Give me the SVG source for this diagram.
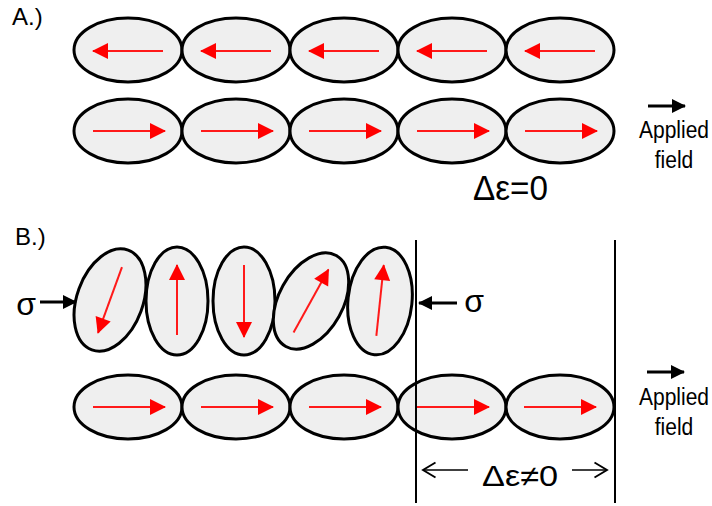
<svg xmlns="http://www.w3.org/2000/svg" width="712" height="506" viewBox="0 0 712 506">
<style>
.el{fill:#efefef;stroke:#000;stroke-width:3}
.ra{stroke:#ff1a1a;stroke-width:2;fill:none;marker-end:url(#rh)}
.ba{stroke:#000;stroke-width:3;fill:none;marker-end:url(#bh)}
.ta{stroke:#000;stroke-width:1.5;fill:none;marker-end:url(#oh)}
.vl{stroke:#000;stroke-width:2}
.lb{font-family:"Liberation Sans",Arial,sans-serif;fill:#000}
</style>
<defs>
<marker id="rh" markerUnits="userSpaceOnUse" markerWidth="20" markerHeight="20" viewBox="0 -10 16 20" refX="15" refY="0" orient="auto"><path d="M0,-8 L16,0 L0,8 Z" fill="#ff0000"/></marker>
<marker id="bh" markerUnits="userSpaceOnUse" markerWidth="20" markerHeight="20" viewBox="0 -10 14 20" refX="13" refY="0" orient="auto"><path d="M0,-7 L14,0 L0,7 Z" fill="#000"/></marker>
<marker id="oh" markerUnits="userSpaceOnUse" markerWidth="20" markerHeight="20" viewBox="-12 -8 14 16" refX="0" refY="0" orient="auto"><path d="M-10,-6 L0,0 L-10,6" fill="none" stroke="#000" stroke-width="1.5"/></marker>
</defs>

<text class="lb" x="12" y="25" font-size="24">A.)</text>
<text class="lb" x="15" y="245" font-size="24">B.)</text>

<g id="a-row1">
<g id="a1-1"><ellipse class="el" cx="128" cy="50" rx="54" ry="32"/><line class="ra" x1="163" y1="51" x2="93" y2="51"/></g>
<g id="a1-2"><ellipse class="el" cx="236" cy="50" rx="54" ry="32"/><line class="ra" x1="271" y1="51" x2="201" y2="51"/></g>
<g id="a1-3"><ellipse class="el" cx="344" cy="50" rx="54" ry="32"/><line class="ra" x1="379" y1="51" x2="309" y2="51"/></g>
<g id="a1-4"><ellipse class="el" cx="452" cy="50" rx="54" ry="32"/><line class="ra" x1="487" y1="51" x2="417" y2="51"/></g>
<g id="a1-5"><ellipse class="el" cx="560" cy="50" rx="54" ry="32"/><line class="ra" x1="595" y1="51" x2="525" y2="51"/></g>
</g>
<g id="a-row2">
<g id="a2-1"><ellipse class="el" cx="128" cy="131" rx="54" ry="32"/><line class="ra" x1="93" y1="131" x2="165" y2="131"/></g>
<g id="a2-2"><ellipse class="el" cx="236" cy="131" rx="54" ry="32"/><line class="ra" x1="201" y1="131" x2="273" y2="131"/></g>
<g id="a2-3"><ellipse class="el" cx="344" cy="131" rx="54" ry="32"/><line class="ra" x1="309" y1="131" x2="381" y2="131"/></g>
<g id="a2-4"><ellipse class="el" cx="452" cy="131" rx="54" ry="32"/><line class="ra" x1="417" y1="131" x2="489" y2="131"/></g>
<g id="a2-5"><ellipse class="el" cx="560" cy="131" rx="54" ry="32"/><line class="ra" x1="525" y1="131" x2="597" y2="131"/></g>
</g>
<g id="a-field">
<line class="ba" x1="648" y1="106" x2="685" y2="106"/>
<text class="lb" transform="translate(674,138) scale(1,1.14)" font-size="21" text-anchor="middle">Applied</text>
<text class="lb" transform="translate(674,168) scale(1,1.14)" font-size="21" text-anchor="middle">field</text>
</g>
<text class="lb" x="473" y="200" font-size="35" textLength="75" lengthAdjust="spacingAndGlyphs">Δε=0</text>

<g id="b-row1">
<g id="b1-1" transform="translate(110,300) rotate(20)"><ellipse class="el" cx="0" cy="0" rx="33" ry="53"/><line class="ra" x1="0" y1="-35" x2="0" y2="35"/></g>
<g id="b1-2" transform="translate(177,301)"><ellipse class="el" cx="0" cy="0" rx="31" ry="54"/><line class="ra" x1="0" y1="34" x2="0" y2="-36"/></g>
<g id="b1-3" transform="translate(244,301)"><ellipse class="el" cx="0" cy="0" rx="31" ry="54"/><line class="ra" x1="0" y1="-36" x2="0" y2="36"/></g>
<g id="b1-4" transform="translate(311,301) rotate(29)"><ellipse class="el" cx="0" cy="0" rx="32" ry="52"/><line class="ra" x1="0" y1="36" x2="0" y2="-36"/></g>
<g id="b1-5" transform="translate(380,301) rotate(6)"><ellipse class="el" cx="0" cy="0" rx="32" ry="54"/><line class="ra" x1="0" y1="35" x2="0" y2="-36"/></g>
</g>
<g id="b-row2">
<g id="b2-1"><ellipse class="el" cx="128" cy="407" rx="54" ry="32"/><line class="ra" x1="93" y1="407" x2="165" y2="407"/></g>
<g id="b2-2"><ellipse class="el" cx="236" cy="407" rx="54" ry="32"/><line class="ra" x1="201" y1="407" x2="273" y2="407"/></g>
<g id="b2-3"><ellipse class="el" cx="344" cy="407" rx="54" ry="32"/><line class="ra" x1="309" y1="407" x2="381" y2="407"/></g>
<g id="b2-4"><ellipse class="el" cx="452" cy="407" rx="54" ry="32"/><line class="ra" x1="417" y1="407" x2="489" y2="407"/></g>
<g id="b2-5"><ellipse class="el" cx="560" cy="407" rx="54" ry="32"/><line class="ra" x1="524" y1="407" x2="596" y2="407"/></g>
</g>

<g id="connectors">
<line class="vl" x1="416" y1="240" x2="416" y2="503"/>
<line class="vl" x1="615" y1="240" x2="615" y2="503"/>
<line class="ba" x1="40" y1="302" x2="76" y2="302"/>
<line class="ba" x1="457" y1="303" x2="419" y2="303"/>
<line class="ta" x1="468" y1="470" x2="423" y2="470"/>
<line class="ta" x1="572" y1="470" x2="607" y2="470"/>
</g>
<text class="lb" x="26" y="315" font-size="32" text-anchor="middle">σ</text>
<text class="lb" x="474" y="312" font-size="32" text-anchor="middle">σ</text>
<g id="b-field">
<line class="ba" x1="647" y1="372" x2="684" y2="372"/>
<text class="lb" transform="translate(674,405) scale(1,1.14)" font-size="21" text-anchor="middle">Applied</text>
<text class="lb" transform="translate(674,435) scale(1,1.14)" font-size="21" text-anchor="middle">field</text>
</g>
<text class="lb" x="482" y="486" font-size="29" textLength="76" lengthAdjust="spacingAndGlyphs">Δε≠0</text>
</svg>
